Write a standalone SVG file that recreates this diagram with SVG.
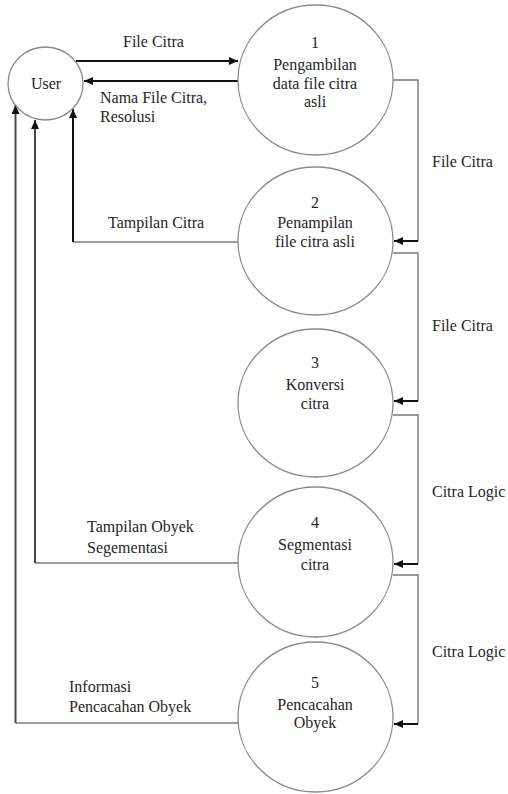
<svg xmlns="http://www.w3.org/2000/svg" width="508" height="794" viewBox="0 0 508 794">
<style>
.bg{fill:#ffffff}
.node{fill:#ffffff;stroke:#8a8a8a;stroke-width:1.3}
.t{font-family:"Liberation Serif","Times New Roman",serif;font-size:16px;fill:#262626}
.c{text-anchor:middle}
.thick{fill:none;stroke:#111;stroke-width:2}
.side{fill:none;stroke:#4a4a4a;stroke-width:2}
.thin{fill:none;stroke:#7a7a7a;stroke-width:1.4}
.tip{fill:none;stroke:#111;stroke-width:2}
</style>
<defs>
<marker id="ah" markerUnits="userSpaceOnUse" markerWidth="9" markerHeight="8" refX="9" refY="4" orient="auto">
<path d="M0,0 L9,4 L0,8 z" fill="#111"/>
</marker>
</defs>
<rect class="bg" x="0" y="0" width="508" height="794"/>
<g id="connectors">
<line class="thick" x1="76" y1="61" x2="238" y2="61" marker-end="url(#ah)"/>
<line class="thick" x1="238" y1="81" x2="84" y2="81" marker-end="url(#ah)"/>
<path class="thin" d="M238,242 H73"/>
<path class="thick" d="M73,242 V109" marker-end="url(#ah)"/>
<path class="thin" d="M238,563 H35"/>
<path class="side" d="M35,563 V120" marker-end="url(#ah)"/>
<path class="thin" d="M238,723 H15.5"/>
<path class="side" d="M15.5,723 V105" marker-end="url(#ah)"/>
<path class="thin" d="M393,80 H418 V241"/>
<line class="tip" x1="418" y1="241" x2="394" y2="241" marker-end="url(#ah)"/>
<path class="thin" d="M393,253 H418 V401"/>
<line class="tip" x1="418" y1="401" x2="394" y2="401" marker-end="url(#ah)"/>
<path class="thin" d="M393,415 H418 V564"/>
<line class="tip" x1="418" y1="564" x2="394" y2="564" marker-end="url(#ah)"/>
<path class="thin" d="M393,575 H418 V724"/>
<line class="tip" x1="418" y1="724" x2="394" y2="724" marker-end="url(#ah)"/>
<text class="t" x="123" y="47">File Citra</text>
<text class="t" x="100" y="103">Nama File Citra,</text>
<text class="t" x="100" y="122">Resolusi</text>
<text class="t" x="108" y="228">Tampilan Citra</text>
<text class="t" x="87" y="532">Tampilan Obyek</text>
<text class="t" x="87" y="553">Segementasi</text>
<text class="t" x="69" y="692">Informasi</text>
<text class="t" x="69" y="712">Pencacahan Obyek</text>
<text class="t" x="432" y="167">File Citra</text>
<text class="t" x="432" y="331">File Citra</text>
<text class="t" x="432" y="497">Citra Logic</text>
<text class="t" x="432" y="657">Citra Logic</text>
</g>
<g id="user">
<ellipse class="node" cx="45.5" cy="83.5" rx="37.5" ry="36.5"/>
<text class="t c" x="46" y="89">User</text>
</g>
<g id="p1">
<ellipse class="node" cx="315.5" cy="80" rx="77.5" ry="75"/>
<text class="t c" x="315" y="48">1</text>
<text class="t c" x="315" y="70">Pengambilan</text>
<text class="t c" x="315" y="89">data file citra</text>
<text class="t c" x="315" y="107">asli</text>
</g>
<g id="p2">
<ellipse class="node" cx="315.5" cy="241" rx="77.5" ry="74"/>
<text class="t c" x="315" y="208">2</text>
<text class="t c" x="315" y="228">Penampilan</text>
<text class="t c" x="315" y="247">file citra asli</text>
</g>
<g id="p3">
<ellipse class="node" cx="315.5" cy="403" rx="77.5" ry="74"/>
<text class="t c" x="315" y="368">3</text>
<text class="t c" x="315" y="390">Konversi</text>
<text class="t c" x="315" y="409">citra</text>
</g>
<g id="p4">
<ellipse class="node" cx="315.5" cy="562" rx="77.5" ry="75"/>
<text class="t c" x="315" y="528">4</text>
<text class="t c" x="315" y="550">Segmentasi</text>
<text class="t c" x="315" y="570">citra</text>
</g>
<g id="p5">
<ellipse class="node" cx="315.5" cy="717" rx="77.5" ry="75"/>
<text class="t c" x="315" y="688">5</text>
<text class="t c" x="315" y="710">Pencacahan</text>
<text class="t c" x="315" y="728">Obyek</text>
</g>
</svg>
